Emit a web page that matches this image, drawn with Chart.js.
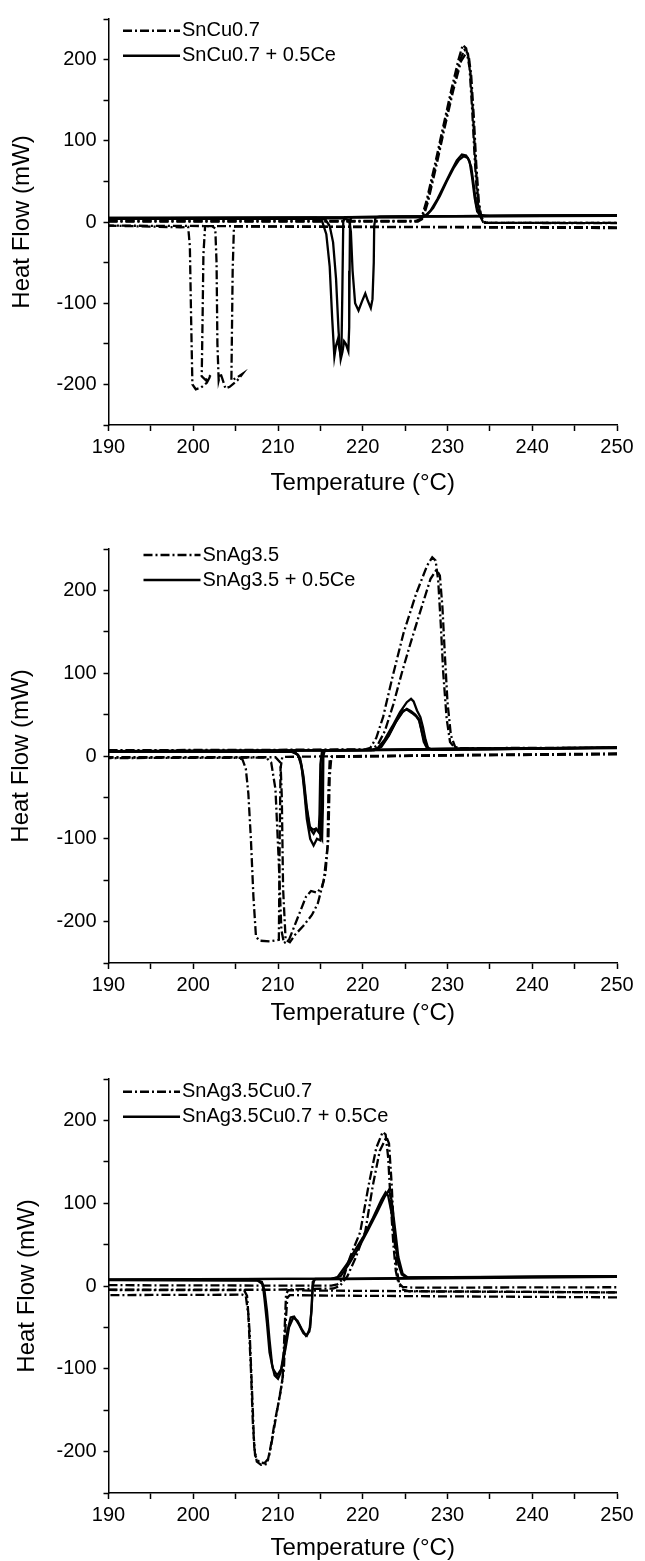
<!DOCTYPE html>
<html>
<head>
<meta charset="utf-8">
<script src="https://cdn.jsdelivr.net/npm/chart.js@4.4.1/dist/chart.umd.min.js"></script>
<style>
  body { margin: 0; background: #fff; }
  .panel { position: absolute; left: 0; width: 645px; }
  canvas { display: block; }
</style>
</head>
<body>
<div class="panel" style="top:0px"><canvas id="p1" width="645" height="520"></canvas></div>
<div class="panel" style="top:520px"><canvas id="p2" width="645" height="520"></canvas></div>
<div class="panel" style="top:1040px"><canvas id="p3" width="645" height="521"></canvas></div>
<script>
// axis ranges / ticks
const tempRange = [190, 250];
const heatRange = [-250, 250];

// ---- panel 1: SnCu0.7 ----  [temperature, heat flow]
const cuHeat1 = [[190,1.5],[210,1.5],[226.3,1.5],[226.9,4],[227.5,25],[228.5,70],[229.5,118],[230.5,165],[231.3,200],[231.8,218],[232.2,214],[232.6,190],[232.9,140],[233.2,80],[233.5,30],[233.8,8],[234.2,0],[235,-1],[250,-1.5]];
const cuHeat2 = [[190,0.5],[226.5,0.5],[227.1,4],[227.7,25],[228.7,70],[229.7,118],[230.7,163],[231.6,198],[232.2,208],[232.5,205],[232.8,180],[233.1,130],[233.4,70],[233.7,25],[234.0,6],[234.5,-1],[236,-1],[250,-1]];
const cuHeat3 = [[190,1],[226.4,1],[227.0,4],[227.6,25],[228.6,70],[229.6,118],[230.6,164],[231.5,200],[232.0,212],[232.4,208],[232.7,185],[233.0,135],[233.3,75],[233.6,28],[233.9,7],[234.4,-1],[250,-1.2]];
const cuCool1 = [[250,-7.5],[230,-6.5],[215,-6],[205.3,-5.5],[204.8,-6],[204.65,-60],[204.55,-150],[204.5,-195],[205.1,-192],[205.8,-187],[205.2,-195],[204.3,-203],[203.8,-205],[203.4,-192],[203.2,-186],[203.0,-195],[202.85,-150],[202.75,-50],[202.6,-8],[202.2,-5],[190,-4.5]];
const cuCool2 = [[250,-6.5],[225,-6],[202,-5],[201.4,-5],[201.2,-40],[201.1,-120],[201.0,-190],[201.5,-195],[202.1,-188],[201.6,-198],[200.9,-204],[200.3,-206],[199.9,-200],[199.75,-120],[199.6,-30],[199.4,-6],[198.5,-6.5],[190,-4.5]];
const cuCeHeat1 = [[190,4.5],[210,5.5],[226.8,6],[227.4,8],[228,14],[228.8,28],[229.6,45],[230.4,62],[231.1,76],[231.7,83],[232.2,82],[232.6,75],[232.9,55],[233.2,30],[233.5,13],[233.9,8],[235,7.5],[250,8.5]];
const cuCeHeat2 = [[190,5],[227,6],[227.6,9],[228.3,17],[229.1,32],[229.9,50],[230.7,66],[231.4,77],[231.9,81],[232.4,79],[232.8,68],[233.1,45],[233.4,20],[233.8,9],[234.5,7.5],[250,8]];
const cuCeCool1 = [[250,8.5],[235,7.5],[222,6.5],[221.5,5.5],[221.35,-5],[221.3,-50],[221.15,-95],[220.95,-106],[220.6,-97],[220.3,-88],[219.9,-98],[219.5,-109],[219.1,-100],[218.8,-60],[218.6,-12],[218.4,2],[217.8,4.5],[190,4.5]];
const cuCeCool2 = [[250,8],[225,7],[218.7,6],[218.5,2],[218.45,-60],[218.4,-130],[218.3,-159],[218.0,-150],[217.8,-147],[217.6,-160],[217.4,-169],[217.15,-135],[216.85,-70],[216.5,-25],[216.1,-5],[215.6,3],[214.5,5],[190,5]];
const cuCeCool3 = [[250,7.5],[225,6.5],[217.9,6],[217.7,0],[217.6,-80],[217.5,-150],[217.35,-162],[217.05,-145],[216.85,-152],[216.65,-166],[216.4,-120],[216.1,-55],[215.7,-15],[215.2,1],[214.5,4],[190,4]];

// ---- panel 2: SnAg3.5 ----
const agHeat1 = [[190,7],[210,7.5],[220.3,8],[220.9,10],[221.6,22],[222.4,47],[223.5,95],[224.8,148],[226.3,196],[227.6,230],[228.2,240],[228.6,236],[228.9,212],[229.2,160],[229.5,100],[229.9,45],[230.3,17],[230.9,9],[232,9.5],[250,10]];
const agHeat2 = [[190,6.5],[210,7],[221.0,7.5],[221.8,14],[222.6,30],[223.6,62],[224.6,100],[225.6,135],[226.8,175],[228.0,214],[228.7,225],[229.1,218],[229.4,180],[229.7,120],[230.0,65],[230.4,25],[230.9,11],[231.6,9],[250,10]];
const agCool1 = [[250,3],[235,1.5],[220,0],[211,-1],[210.5,-1.5],[210.3,-15],[210.2,-100],[210.1,-222],[209,-224],[207.8,-223],[207.4,-218],[207.1,-170],[206.8,-100],[206.5,-45],[206.2,-15],[205.8,-4],[205,-1.5],[190,-2]];
const agCool2 = [[250,2.5],[230,1],[216.4,-1],[216.1,-5],[215.95,-40],[215.85,-110],[215.6,-142],[215.2,-158],[214.6,-165],[213.9,-163],[213.3,-170],[212.3,-196],[211.3,-222],[210.7,-226],[210.4,-210],[210.1,-130],[209.7,-40],[209.2,-8],[208.6,-2],[190,-2.5]];
const agCool3 = [[250,2],[230,0.5],[216.3,-1],[216.1,-25],[215.95,-100],[215.4,-150],[214.7,-178],[214.0,-192],[213.0,-205],[212.0,-216],[211.4,-225],[210.9,-222],[210.6,-160],[210.45,-50],[210.3,-8],[209.7,-1.5],[190,-1.5]];
const agCeHeat1 = [[190,6],[210,6.5],[221.0,7],[221.8,10],[222.6,20],[223.5,36],[224.4,53],[225.2,65],[225.7,69],[226.0,66],[226.4,55],[226.8,47],[227.1,35],[227.4,20],[227.7,10],[228.2,7.5],[250,10]];
const agCeHeat2 = [[190,5.5],[221.3,7],[222.1,11],[223,24],[223.9,41],[224.7,53],[225.2,57],[225.7,54],[226.2,50],[226.6,45],[226.9,32],[227.2,17],[227.6,9],[228.3,7.5],[250,10]];
const agCeHeat3 = [[190,6],[221.4,7],[222.2,11],[223.1,25],[224.0,43],[224.8,55],[225.2,56],[225.8,52],[226.3,48],[226.7,42],[227.0,28],[227.4,14],[227.8,8.5],[250,10]];
const agCeCool1 = [[250,10],[230,8.5],[216,7],[215.5,6.5],[215.35,0],[215.3,-60],[215.2,-100],[214.9,-93],[214.5,-88],[214.1,-89],[213.7,-85],[213.3,-58],[213.0,-28],[212.7,-8],[212.3,2],[211.5,5.5],[190,5]];
const agCeCool2 = [[250,10],[230,8.5],[215.5,6.5],[215.25,0],[215.15,-50],[215.0,-102],[214.6,-100],[214.2,-108],[213.8,-100],[213.4,-76],[213.1,-42],[212.8,-14],[212.4,1],[211.8,5],[190,5.5]];
const agCeCool3 = [[250,9.5],[215.2,6.5],[215.0,-10],[214.9,-70],[214.8,-92],[214.5,-88],[214.2,-94],[213.8,-88],[213.4,-62],[213.0,-24],[212.6,-2],[212.0,5],[190,5.5]];

// ---- panel 3: SnAg3.5Cu0.7 ----
const acHeat1 = [[190,1],[210,0.5],[216.3,0.5],[217.0,2],[217.7,9],[218.5,35],[219.7,65],[220.7,122],[221.6,167],[222.35,186],[222.7,183],[223.0,155],[223.3,100],[223.6,52],[223.9,18],[224.2,4],[224.7,-1],[226,-2],[250,-1.5]];
const acHeat2 = [[190,-4.5],[210,-4.5],[216.5,-3],[217.3,0],[218.2,12],[219.2,35],[220.3,66],[221.2,122],[222.0,163],[222.8,180],[223.1,172],[223.4,125],[223.7,62],[224.0,22],[224.3,2],[224.6,-4],[225.5,-6.5],[250,-7.7]];
const acCool1 = [[250,-13.7],[230,-12.5],[215,-11.5],[211.4,-11],[211.1,-14],[210.9,-45],[210.7,-100],[210.3,-128],[209.6,-165],[208.9,-208],[208.4,-214],[207.8,-213],[207.3,-205],[207.05,-170],[206.8,-100],[206.5,-35],[206.2,-12],[205.8,-10.5],[190,-11]];
const acCool2 = [[250,-7.7],[230,-6.5],[214,-5.5],[211.2,-5],[210.95,-10],[210.75,-60],[210.55,-112],[209.9,-150],[209.2,-192],[208.7,-215],[208.0,-216],[207.5,-212],[207.2,-195],[206.95,-130],[206.65,-55],[206.35,-12],[206.0,-5],[190,-4.8]];
const acCeHeat1 = [[190,8],[210,8.5],[216.3,9],[217.0,10.5],[218.1,26],[219.0,42],[220.1,60],[221.2,82],[222.2,104],[222.7,113],[223.0,109],[223.4,88],[223.8,55],[224.2,27],[224.6,14],[225.2,10],[250,12]];
const acCeHeat2 = [[190,7.5],[216.6,9],[217.4,12],[218.4,27],[219.5,46],[220.6,67],[221.7,89],[222.6,108],[223.1,116],[223.4,104],[223.8,70],[224.2,35],[224.7,15],[225.3,10.5],[250,12]];
const acCeCool1 = [[250,12],[230,10],[214.4,8.5],[214.1,5],[214.0,-20],[213.8,-50],[213.4,-60],[213.0,-57],[212.5,-47],[211.9,-37],[211.5,-38],[211.1,-55],[210.7,-80],[210.3,-105],[210.0,-112],[209.6,-108],[209.3,-95],[209.0,-65],[208.7,-30],[208.4,-5],[208.1,5],[207.5,7],[190,7.5]];
const acCeCool2 = [[250,11],[214.3,8],[214.1,0],[213.95,-30],[213.7,-55],[213.3,-60],[212.8,-52],[212.3,-42],[211.8,-38],[211.3,-50],[210.9,-75],[210.4,-100],[209.9,-108],[209.4,-100],[209.0,-80],[208.7,-45],[208.4,-15],[208.2,2],[207.6,6.5],[190,7]];

const FONT = "'Liberation Sans', Arial, sans-serif";
const DASH_DOT = [9, 3, 2, 3];

function curve(points, dashed, label) {
  return {
    label: label || '',
    data: points.map(p => ({ x: p[0], y: p[1] })),
    borderColor: '#000',
    borderWidth: 2.3,
    borderDash: dashed ? DASH_DOT : [],
    pointRadius: 0,
    showLine: true,
    fill: false,
    tension: 0
  };
}

// small legend drawn with the dataset styles
const lineLegend = {
  id: 'lineLegend',
  afterDatasetsDraw(chart, args, opts) {
    const { ctx, chartArea } = chart;
    ctx.save();
    ctx.font = '20px ' + FONT;
    ctx.textBaseline = 'middle';
    ctx.fillStyle = '#000';
    opts.items.forEach((idx, i) => {
      const ds = chart.data.datasets[idx];
      const y = chartArea.top + opts.rowTop + i * opts.rowGap;
      const x0 = chartArea.left + opts.lineLeft;
      ctx.beginPath();
      ctx.setLineDash(ds.borderDash);
      ctx.lineWidth = 2.6;
      ctx.strokeStyle = ds.borderColor;
      ctx.moveTo(x0, y);
      ctx.lineTo(x0 + opts.lineLength, y);
      ctx.stroke();
      ctx.setLineDash([]);
      ctx.fillText(ds.label, x0 + opts.lineLength + 2, y);
    });
    ctx.restore();
  }
};

function makePanel(id, datasets, legendItems, g) {
  new Chart(document.getElementById(id), {
    type: 'scatter',
    data: { datasets },
    plugins: [lineLegend],
    options: {
      responsive: false,
      animation: false,
      events: [],
      layout: { padding: { top: g.top, right: 28, bottom: 0, left: 0 } },
      plugins: {
        legend: { display: false },
        tooltip: { enabled: false },
        lineLegend: { items: legendItems, rowTop: g.rowTop, rowGap: 25, lineLeft: g.lineLeft, lineLength: 57 }
      },
      scales: {
        x: {
          type: 'linear',
          min: tempRange[0], max: tempRange[1],
          afterFit: s => { s.height = g.xHeight; },
          border: { display: true, color: '#000', width: 1.5 },
          grid: { display: true, drawOnChartArea: false, drawTicks: true, tickLength: 6, tickColor: '#000', tickWidth: 1.5 },
          ticks: {
            stepSize: 5, color: '#000', padding: 4, maxRotation: 0, autoSkip: false,
            font: { family: FONT, size: 20 },
            callback: v => (v % 10 === 0 ? v : '')
          },
          title: {
            display: true, text: 'Temperature (°C)', color: '#000',
            font: { family: FONT, size: 24, lineHeight: 1 },
            padding: { top: 0, bottom: g.xTitlePad }
          }
        },
        y: {
          type: 'linear',
          min: heatRange[0], max: heatRange[1],
          afterFit: s => { s.width = 108.5; },
          border: { display: true, color: '#000', width: 1.5 },
          grid: { display: true, drawOnChartArea: false, drawTicks: true, tickLength: 5, tickColor: '#000', tickWidth: 1.5 },
          ticks: {
            stepSize: 50, color: '#000', padding: 7, autoSkip: false,
            font: { family: FONT, size: 20 },
            callback: v => (v % 100 === 0 ? v : '')
          },
          title: {
            display: true, text: 'Heat Flow (mW)', color: '#000',
            font: { family: FONT, size: 24, lineHeight: 1 },
            padding: { top: g.yTitlePad, bottom: 0 }
          }
        }
      }
    }
  });
}

makePanel('p1', [
  curve(cuHeat1, true, 'SnCu0.7'),
  curve(cuCeHeat1, false, 'SnCu0.7 + 0.5Ce'),
  curve(cuHeat2, true), curve(cuHeat3, true), curve(cuCool1, true), curve(cuCool2, true),
  curve(cuCeHeat2, false), curve(cuCeCool1, false), curve(cuCeCool2, false), curve(cuCeCool3, false)
], [0, 1], { top: 11.6, xHeight: 95, xTitlePad: 25, yTitlePad: 10, rowTop: 11.7, lineLeft: 14.5 });

makePanel('p2', [
  curve(agHeat1, true, 'SnAg3.5'),
  curve(agCeHeat1, false, 'SnAg3.5 + 0.5Ce'),
  curve(agHeat2, true), curve(agCool1, true), curve(agCool2, true), curve(agCool3, true),
  curve(agCeHeat2, false), curve(agCeHeat3, false), curve(agCeCool1, false), curve(agCeCool2, false), curve(agCeCool3, false)
], [0, 1], { top: 29, xHeight: 77, xTitlePad: 15, yTitlePad: 9.5, rowTop: 6, lineLeft: 35 });

makePanel('p3', [
  curve(acHeat1, true, 'SnAg3.5Cu0.7'),
  curve(acCeHeat1, false, 'SnAg3.5Cu0.7 + 0.5Ce'),
  curve(acHeat2, true), curve(acCool1, true), curve(acCool2, true),
  curve(acCeHeat2, false), curve(acCeCool1, false), curve(acCeCool2, false)
], [0, 1], { top: 39, xHeight: 68, xTitlePad: 1, yTitlePad: 15.5, rowTop: 12.7, lineLeft: 14.5 });
</script>
</body>
</html>
